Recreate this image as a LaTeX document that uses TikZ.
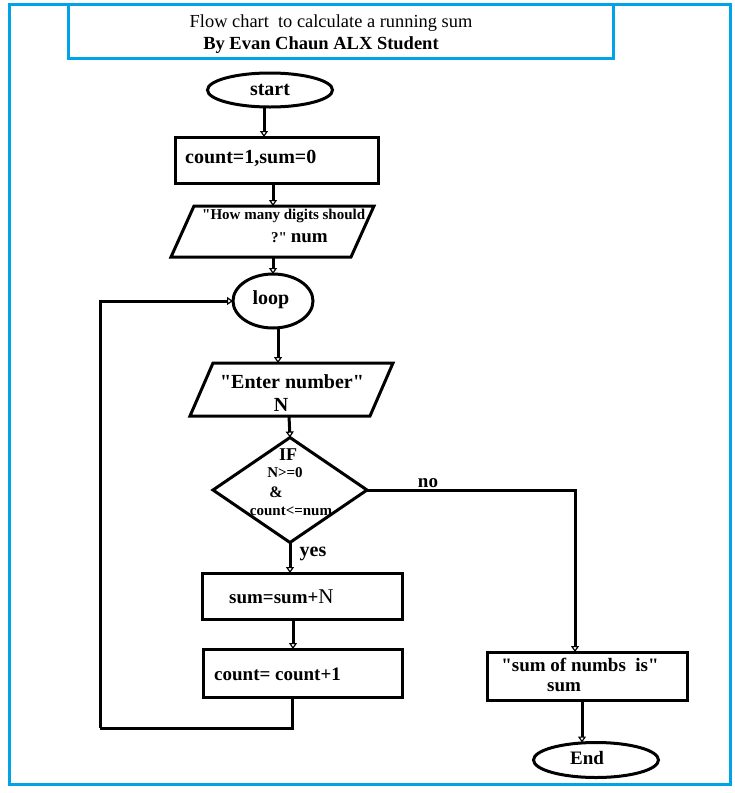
\documentclass[tikz,border=0pt]{standalone}
\usepackage{fontspec}
\setmainfont{Liberation Serif}
% same family without the TeX quote mapping, for straight double quotes
\newfontfamily\qfont{Liberation Serif}
\usetikzlibrary{shapes.geometric,arrows.meta}
\definecolor{frameblue}{RGB}{0,162,232}
\newcommand\dq{{\qfont"}}
\begin{document}
\begin{tikzpicture}[x=1pt,y=-1pt,
  outline/.style={draw=black,line width=3pt,inner sep=0pt,outer sep=0pt},
  procbox/.style={outline,rectangle},
  termbox/.style={outline,ellipse},
  iobody/.style={rectangle,inner sep=0pt,outer sep=0pt,minimum width=180},
  decbox/.style={outline,inner sep=2pt,diamond},
  flow/.style={line width=3pt,draw=black},
  tipped/.style={flow,-{Triangle[open,length=6pt,width=8pt,line width=1.2pt]}},
  big/.style={inner sep=0pt,font=\bfseries\fontsize{20}{22}\selectfont},
  mid/.style={inner sep=0pt,font=\bfseries\fontsize{15}{17}\selectfont},
]
\useasboundingbox (0,0) rectangle (735,793);
\fill[white] (0,0) rectangle (735,793);

% frame and heading
\draw[frameblue,line width=3pt] (9,4) rectangle (730,784);
\draw[frameblue,line width=3pt] (68,4) rectangle (613,58);
\node[inner sep=0pt,font=\fontsize{18.4}{20}\selectfont] (title) at (331,23) {Flow chart\ \ to calculate a running sum};
\node[inner sep=0pt,font=\bfseries\fontsize{18.5}{20}\selectfont] (author) at (321,45) {By Evan Chaun ALX Student};

% terminals, processes and input/output boxes
\node[termbox,minimum width=125,minimum height=34] (start) at (270,90) {};
\node[big] (starttxt) at (270,90) {start};
\node[procbox,minimum width=203,minimum height=46] (init) at (276.5,160) {};
\node[big,anchor=west] (inittxt) at (185,158) {count=1,sum=0};

\node[iobody,minimum height=51] (ask) at (272.5,231.5) {};
\draw[outline] ([xshift=-11.5]ask.south west) -- ([xshift=11.5]ask.north west)
  -- ([xshift=11.5]ask.north east) -- ([xshift=-11.5]ask.south east) -- cycle;
\node[mid,anchor=west] (asktxt) at (202,216) {\dq How many digits should};
\node[anchor=west,inner sep=0pt] (asknum) at (271,238) {\bfseries\fontsize{15}{17}\selectfont ?\dq\ \fontsize{19}{20}\selectfont num};

\node[termbox,minimum width=80,minimum height=54] (loop) at (273,301) {};
\node[big] (looptxt) at (271,300) {loop};

\node[iobody,minimum height=53] (enter) at (291.5,389.5) {};
\draw[outline] ([xshift=-11.5]enter.south west) -- ([xshift=11.5]enter.north west)
  -- ([xshift=11.5]enter.north east) -- ([xshift=-11.5]enter.south east) -- cycle;
\node[big] (entertxt) at (292,382) {\dq Enter number\dq};
\node[big] (entern) at (281,405) {N};

\node[decbox,minimum width=154,minimum height=105] (test) at (290,490) {};
\node[inner sep=0pt,font=\bfseries\fontsize{18}{20}\selectfont] (iftxt) at (288,455) {IF};
\node[mid] (cond1) at (285,473) {N>=0};
\node[inner sep=0pt,font=\bfseries\fontsize{16}{18}\selectfont] (cond2) at (276,492) {\&};
\node[mid] (cond3) at (291,511) {count<=num};

\node[procbox,minimum width=200,minimum height=46] (add) at (302,596) {};
\node[anchor=west,inner sep=0pt] (addtxt) at (229,597) {\bfseries\fontsize{19}{20}\selectfont sum=sum+\mdseries\fontsize{21}{22}\selectfont N};
\node[procbox,minimum width=199,minimum height=48] (inc) at (302.5,673) {};
\node[big,anchor=west,font=\bfseries\fontsize{19}{20}\selectfont] (inctxt) at (214,674) {count= count+1};
\node[procbox,minimum width=200,minimum height=48] (show) at (587,676) {};
\node[big,font=\bfseries\fontsize{19}{20}\selectfont] (showtxt) at (580,665) {\dq sum of numbs\ \ is\dq};
\node[big,font=\bfseries\fontsize{19}{20}\selectfont] (showsum) at (564,687) {sum};
\node[termbox,minimum width=125,minimum height=35] (stop) at (596,760) {};
\node[big,font=\bfseries\fontsize{19}{20}\selectfont] (stoptxt) at (587,758) {End};

% connectors
\draw[tipped] ([xshift=-6]start.south) -- ([xshift=-6]start.south |- init.north);
\draw[tipped] ([xshift=-3.5]init.south) -- ([xshift=-3.5]init.south |- ask.north);
\draw[tipped] ([xshift=0.5]ask.south) -- ([xshift=0.5]ask.south |- loop.north);
\draw[tipped] ([xshift=5]loop.south) -- ([xshift=5]loop.south |- enter.north);
\draw[tipped] ([xshift=-2.5]enter.south) -- (test.north);
\draw[tipped] (test.south) -- (test.south |- add.north);
\node[big] (yes) at (313,554) {yes};
\draw[tipped] (test.east) -| ([xshift=-12]show.north);
\node[big,font=\bfseries\fontsize{19}{20}\selectfont] (no) at (428,483) {no};
\draw[tipped] ([xshift=-9]add.south) -- ([xshift=-9]add.south |- inc.north);
\coordinate (back1) at (100,728);
\draw[flow] ([xshift=-10.5]inc.south) |- (back1);
\draw[tipped] (back1) |- (loop.west);
\draw[tipped] ([xshift=-5]show.south) -- ([xshift=-5]show.south |- stop.north);
\end{tikzpicture}
\end{document}
